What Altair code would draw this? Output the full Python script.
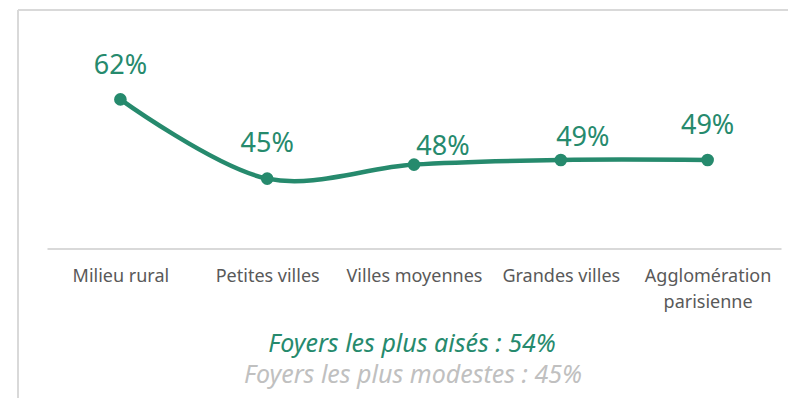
import altair as alt
import pandas as pd

categories = ["Milieu rural", "Petites villes", "Villes moyennes", "Grandes villes", "Agglomération parisienne"]
values = [62, 45, 48, 49, 49]
labels = ["62%", "45%", "48%", "49%", "49%"]
line1 = "Foyers les plus aisés : 54%"
line2 = "Foyers les plus modestes : 45%"

GREEN = "#268a6d"
FONT = "Noto Sans"

df = pd.DataFrame({"cat": categories, "val": values, "lab": labels, "i": list(range(len(categories)))})

x = alt.X("cat:N", sort=categories, title=None,
          scale=alt.Scale(type="point", padding=0.5),
          axis=alt.Axis(domainColor="#d9d9d9", domainWidth=2, ticks=False, grid=False,
                        labelAngle=0, labelFont=FONT, labelFontSize=18, labelColor="#595959",
                        labelPadding=19, labelLineHeight=26, labelLimit=300,
                        labelExpr="datum.label == 'Agglomération parisienne' ? ['Agglomération', 'parisienne'] : datum.label"))
y = alt.Y("val:Q", scale=alt.Scale(domain=[30, 80]), axis=None)

base = alt.Chart(df)

line = base.mark_line(interpolate="catmull-rom", color=GREEN, strokeWidth=4.5).encode(x=x, y=y)
pts = base.mark_circle(color=GREEN, size=160, opacity=1).encode(x=x, y=y)

def lab(idx, dx, dy):
    return base.transform_filter(alt.FieldOneOfPredicate(field="i", oneOf=idx)).mark_text(
        font=FONT, fontSize=27, color=GREEN, baseline="alphabetic", dx=dx, dy=dy
    ).encode(x=x, y=y, text="lab:N")

t0 = lab([0], 0, -25)
t1 = lab([1], 0, -27)
t2 = lab([2], 29, -10)
t3 = lab([3], 22, -14)
t4 = lab([4], 0, -26)

note1 = alt.Chart(pd.DataFrame({"t": [line1]})).mark_text(
    font=FONT, fontSize=25, fontStyle="italic", color=GREEN, baseline="alphabetic", align="center"
).encode(text="t:N", x=alt.value(365), y=alt.value(336.5))
note2 = alt.Chart(pd.DataFrame({"t": [line2]})).mark_text(
    font=FONT, fontSize=25, fontStyle="italic", color="#c0c0c0", baseline="alphabetic", align="center"
).encode(text="t:N", x=alt.value(366), y=alt.value(367.5))

frame_left = base.mark_rule(color="#d9d9d9", strokeWidth=2).encode(
    x=alt.value(-29), y=alt.value(-5.5), y2=alt.value(400))
frame_top = base.mark_rule(color="#d9d9d9", strokeWidth=2).encode(
    x=alt.value(-29), x2=alt.value(745), y=alt.value(-5.5))

chart = alt.layer(frame_left, frame_top, line, pts, t0, t1, t2, t3, t4, note1, note2).properties(
    width=734, height=233,
    autosize=alt.AutoSizeParams(type="none"),
    padding={"left": 39, "top": 7.5, "right": 7, "bottom": 149.5},
).configure_view(stroke=None)

chart.save("out.html", embed_options={"renderer": "svg", "actions": False})
